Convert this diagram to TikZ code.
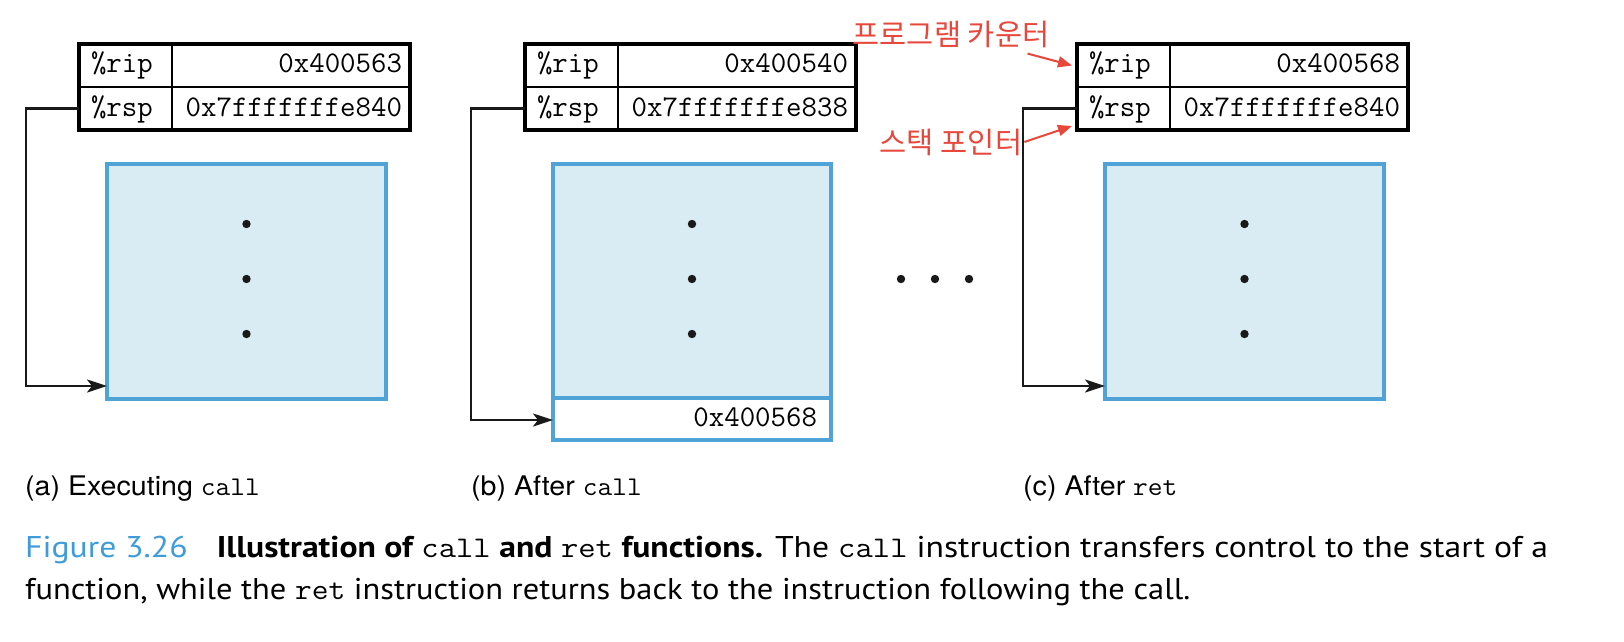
\documentclass[tikz,border=0pt]{standalone}
\usepackage{fontspec}
\setmainfont{TeX Gyre Heros}
\newfontfamily\cjk{Noto Sans CJK KR}
\newfontfamily\capfont{PT Sans}
\usetikzlibrary{arrows.meta}
\definecolor{boxblue}{HTML}{4FA3D6}
\definecolor{boxfill}{HTML}{D9EBF3}
\definecolor{annred}{HTML}{E8473C}
\definecolor{capblue}{HTML}{3E9CDB}
\newcommand\captt[1]{{\mdseries\ttfamily #1}}
\tikzset{
  regcell/.style={draw=black, line width=2pt, inner sep=0pt, outer sep=0pt, anchor=north west,
    minimum height=43pt, text height=21pt, text depth=6pt,
    font=\ttfamily\fontsize{30}{32}\selectfont},
  reglab/.style={regcell, minimum width=93pt, text width=69pt, align=left},
  regval/.style={regcell, minimum width=238pt, text width=222pt, align=right},
  regframe/.style={draw=black, line width=3.2pt},
  stackbox/.style={draw=boxblue, fill=boxfill, line width=3.2pt, inner sep=0pt, outer sep=0pt,
    anchor=north west, minimum width=279pt, minimum height=235pt},
  retcell/.style={draw=boxblue, fill=white, line width=3.2pt, inner sep=0pt, outer sep=0pt,
    anchor=north west, minimum width=278pt, minimum height=42pt, text width=250pt, align=right,
    text height=21pt, text depth=6pt, font=\ttfamily\fontsize{30}{32}\selectfont},
  conn/.style={draw=black!90, line width=2.4pt, -{Stealth[length=20pt,width=13pt,inset=5pt]}},
  annarr/.style={draw=annred, line width=2pt, -{Triangle[length=14pt,width=11pt]}},
  ann/.style={text=annred, font=\cjk\fontsize{29.5}{32}\selectfont, inner sep=0pt},
  panlab/.style={anchor=base west, inner sep=0pt, font=\fontsize{27}{30}\selectfont},
  caption/.style={anchor=base west, inner sep=0pt, font=\capfont\fontsize{30}{34}\selectfont},
  dotm/.style={fill=black!90},
}
\begin{document}
\begin{tikzpicture}[x=1pt,y=-1pt]
\useasboundingbox[fill=white] (0,0) rectangle (1624,642);

% ---------- panel (a)
\node[reglab] (ripa) at (79,44) {\%rip};
\node[regval] (ripva) at (172,44) {0x400563};
\node[reglab] (rspa) at (79,87) {\%rsp};
\node[regval] (rspva) at (172,87) {0x7fffffffe840};
\draw[regframe] (ripa.north west) rectangle (rspva.south east);
\node[stackbox] (boxa) at (107,164) {};
\foreach \yy in {224,279,334} \fill[dotm] (246.5,\yy) circle (4.2pt);
\coordinate (ca) at (26,386);
\draw[conn] (rspa.west) -| (ca) -- (ca -| boxa.west);
\node[panlab] (laba) at (25,495) {\scalebox{1.06}[1]{(a) Executing \texttt{call}}};

% ---------- panel (b)
\node[reglab] (ripb) at (525,44) {\%rip};
\node[regval] (ripvb) at (618,44) {0x400540};
\node[reglab] (rspb) at (525,87) {\%rsp};
\node[regval] (rspvb) at (618,87) {0x7fffffffe838};
\draw[regframe] (ripb.north west) rectangle (rspvb.south east);
\node[stackbox, minimum width=278pt, minimum height=234pt] (boxb) at (553,164) {};
\node[retcell] (retb) at (553,398) {0x400568};
\foreach \yy in {224,279,334} \fill[dotm] (692,\yy) circle (4.2pt);
\coordinate (cb) at (471,420);
\draw[conn] (rspb.west) -| (cb) -- (cb -| retb.west);
\node[panlab] (labb) at (471,495) {\scalebox{1.06}[1]{(b) After \texttt{call}}};

% ---------- ellipsis
\foreach \xx in {901,935,969} \fill[dotm] (\xx,279) circle (4.2pt);

% ---------- panel (c)
\node[reglab] (ripc) at (1077,44) {\%rip};
\node[regval] (ripvc) at (1170,44) {0x400568};
\node[reglab] (rspc) at (1077,87) {\%rsp};
\node[regval] (rspvc) at (1170,87) {0x7fffffffe840};
\draw[regframe] (ripc.north west) rectangle (rspvc.south east);
\node[stackbox] (boxc) at (1105,164) {};
\foreach \yy in {224,279,334} \fill[dotm] (1244.5,\yy) circle (4.2pt);
\coordinate (cc) at (1023,386);
\draw[conn] (rspc.west) -| (cc) -- (cc -| boxc.west);
\node[panlab] (labc) at (1023,495) {\scalebox{1.06}[1]{(c) After \texttt{ret}}};

% ---------- annotations
\node[ann] (pc) at (951,34) {프로그램 카운터};
\node[ann] (sp) at (951,142) {스택 포인터};
\draw[annarr] ([xshift=-22pt,yshift=-6pt]pc.south east) -- ([xshift=-5pt]ripc.west);
\draw[annarr] ([xshift=2pt]sp.east) -- ([xshift=-5pt,yshift=4pt]rspc.south west);

% ---------- caption
\node[caption] (cap1) at (25,557)
  {\scalebox{1.122}[1]{\textcolor{capblue}{Figure 3.26}\hspace{26pt}{\bfseries Illustration of \captt{call} and \captt{ret} functions.} The \texttt{call} instruction transfers control to the start of a}};
\node[caption] (cap2) at (25,599)
  {\scalebox{1.082}[1]{function, while the \texttt{ret} instruction returns back to the instruction following the call.}};
\end{tikzpicture}
\end{document}
